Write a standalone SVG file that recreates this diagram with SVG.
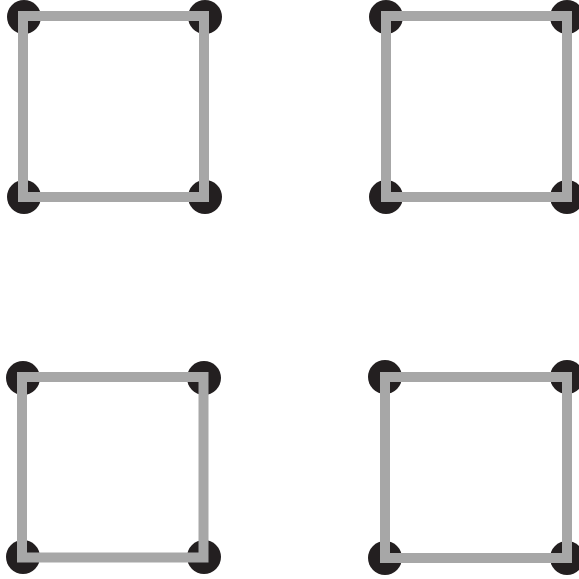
<svg xmlns="http://www.w3.org/2000/svg" width="579" height="579" viewBox="0 0 579 579">
<style>
.dot{fill:#231f20}
.sq{fill:none;stroke:#a7a7a7;stroke-width:10;stroke-linejoin:miter}
</style>
<rect width="579" height="579" fill="#fff"/>
<g id="square-tl">
<circle class="dot" cx="24" cy="17" r="17"/><circle class="dot" cx="205" cy="17" r="17"/>
<circle class="dot" cx="24" cy="197" r="17"/><circle class="dot" cx="205" cy="197" r="17"/>
<rect class="sq" x="23" y="16" width="181" height="181"/>
</g>
<g id="square-tr">
<circle class="dot" cx="386" cy="17" r="17"/><circle class="dot" cx="567" cy="17" r="17"/>
<circle class="dot" cx="386" cy="197" r="17"/><circle class="dot" cx="567" cy="197" r="17"/>
<rect class="sq" x="386" y="16" width="181" height="181"/>
</g>
<g id="square-bl">
<circle class="dot" cx="23" cy="378" r="17"/><circle class="dot" cx="204" cy="378" r="17"/>
<circle class="dot" cx="23" cy="557" r="17"/><circle class="dot" cx="204" cy="557" r="17"/>
<rect class="sq" x="22" y="377" width="181.5" height="180.5"/>
</g>
<g id="square-br">
<circle class="dot" cx="385" cy="377" r="17"/><circle class="dot" cx="567" cy="377" r="17"/>
<circle class="dot" cx="385" cy="558" r="17"/><circle class="dot" cx="567" cy="558" r="17"/>
<rect class="sq" x="385" y="377" width="182" height="181"/>
</g>
<g id="connectors"/>
</svg>
